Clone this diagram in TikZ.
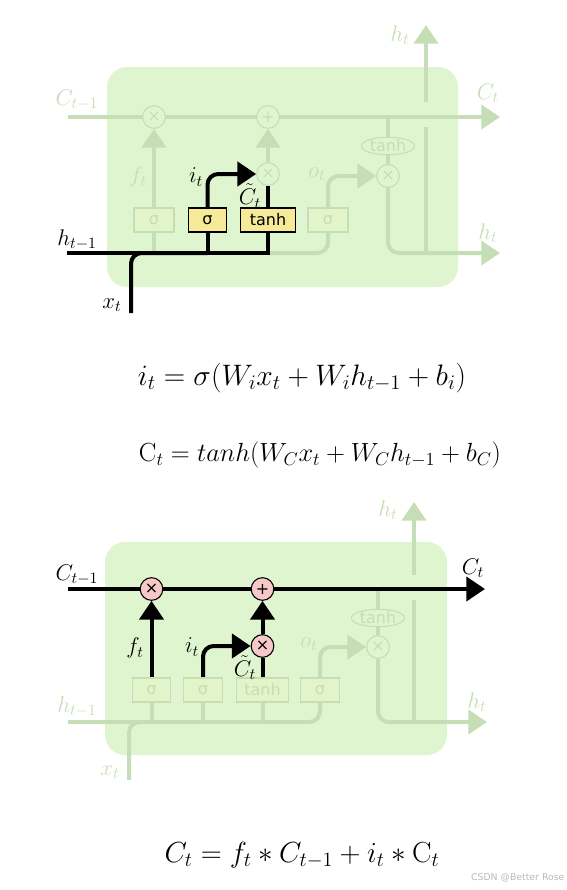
\RequirePackage{fix-cm}
\documentclass[tikz,border=0pt]{standalone}
\usepackage{amsmath}
\usepackage{fontspec}
\usepackage{tikz}
\usetikzlibrary{arrows.meta,backgrounds,shapes,calc,positioning}
\newfontfamily\gatefont{DejaVu Sans}
\definecolor{cellgreen}{RGB}{223,245,208}
\definecolor{fadegreen}{RGB}{198,222,182}
\definecolor{gateyellow}{RGB}{246,233,152}
\definecolor{oppink}{RGB}{246,200,200}
\definecolor{markgray}{RGB}{185,185,185}

\begin{document}
\begin{tikzpicture}[x=0.75pt, y=-0.75pt]
\tikzstyle{cell}=[fill=cellgreen, rounded corners=15pt]
\tikzstyle{flow}=[line width=3pt, draw=black]
\tikzstyle{fade}=[line width=3pt, draw=fadegreen]
\tikzstyle{head}=[-{Triangle[length=14pt, width=18pt]}]
\tikzstyle{gate}=[rectangle, draw, line width=0.8pt, minimum height=18pt, inner sep=0pt, font=\gatefont\fontsize{12}{12}\selectfont]
\tikzstyle{live}=[gate, fill=gateyellow]
\tikzstyle{dead}=[gate, draw=fadegreen, fill=gateyellow!12!cellgreen, text=fadegreen]
\tikzstyle{op}=[circle, draw, line width=0.8pt, minimum size=17pt, inner sep=0pt, font=\gatefont\fontsize{12}{12}\selectfont]
\tikzstyle{opon}=[op, fill=oppink]
\tikzstyle{opoff}=[op, draw=fadegreen, fill=cellgreen, text=fadegreen]
\tikzstyle{lbl}=[font=\fontsize{17}{19}\selectfont, inner sep=0pt]
\tikzstyle{lbloff}=[lbl, text=fadegreen]
\tikzstyle{eqn}=[font=\fontsize{22.2}{25}\selectfont]
\tikzstyle{wmark}=[font=\gatefont\fontsize{7}{8}\selectfont, text=markgray, inner sep=1pt]

\useasboundingbox (0,0) rectangle (567,890);

%% input gate, top cell
  \coordinate (aCin)  at (68,117);
  \coordinate (aCout) at (500,117);
  \coordinate (aCtap) at (388,117);
  \coordinate (aHin)  at (67,253);
  \coordinate (aHout) at (500,253);
  \coordinate (aXin)  at (131,313);
  \coordinate (aJf)   at (154,253);
  \coordinate (aJi)   at (207.5,253);
  \coordinate (aJg)   at (268,253);
  \coordinate (aTap)  at (426,253);
  \coordinate (aTapC) at (426,127);
  \coordinate (aUp)   at (426,102);
  \coordinate (aHtop) at (426,25);

  \node[opoff] (aforget) at (154,117) {×};
  \node[opoff] (aadd)    at (268,117) {+};
  \node[opoff] (amul)    at (268,174) {×};
  \node[opoff] (amulo)   at (388,176) {×};
  \node[ellipse, draw=fadegreen, line width=0.8pt, minimum width=40pt, minimum height=13pt, inner sep=0pt,
        text=fadegreen, font=\gatefont\fontsize{12}{12}\selectfont] (atanh) at (388,146) {tanh};

  \node[dead, minimum width=30pt] (af) at (154,220)   {σ};
  \node[live, minimum width=29pt] (ai) at (207.5,220) {σ};
  \node[live, minimum width=41pt] (ag) at (268,220)   {tanh};
  \node[dead, minimum width=30pt] (ao) at (328,220)   {σ};

  \node[lbloff] (aCinl)  at (77,100)  {$C_{t-1}$};
  \node[lbloff] (aCoutl) at (488,93)  {$C_t$};
  \node[lbloff] (afl)    at (138,177) {$f_t$};
  \node[lbl]    (ail)    at (196,177) {$i_t$};
  \node[lbl]    (agl)    at (250,196) {$\tilde{C}_t$};
  \node[lbloff] (aol)    at (317,174) {$o_t$};
  \node[lbloff] (ahtopl) at (400,35)  {$h_t$};
  \node[lbloff] (ahoutl) at (488,233) {$h_t$};
  \node[lbl]    (ahinl)  at (77,240)  {$h_{t-1}$};
  \node[lbl]    (axl)    at (112,305) {$x_t$};

  \begin{pgfonlayer}{background}
    \fill[cell] (107,67) rectangle (458,287);
    \draw[fade, head] (aCin) -- (aCout);
    \draw[fade, head] (af) -- (aforget);
    \draw[fade] (aJf) -- (af);
    \draw[fade, head] (amul) -- (aadd);
    \draw[fade, rounded corners=8pt] (aJg) -| (ao);
    \draw[fade, head, rounded corners=8pt] (ao) |- (amulo);
    \draw[fade] (aCtap) -- (atanh);
    \draw[fade] (atanh) -- (amulo);
    \draw[fade, head, rounded corners=8pt] (amulo) |- (aHout);
    \draw[fade] (aTap) -- (aTapC);
    \draw[fade, head] (aUp) -- (aHtop);
    \draw[flow] (aHin) -| (ag);
    \draw[flow, rounded corners=8pt] (aXin) |- (aJi);
    \draw[flow] (aJi) -- (ai);
    \draw[flow] (ag) -- (amul);
    \draw[flow, head, rounded corners=8pt] (ai) |- (amul);
  \end{pgfonlayer}

%% equations
  \node[eqn] (eqi) at (302,378) {$i_t = \sigma(W_i x_t + W_i h_{t-1} + b_i)$};
  \node[eqn, font=\fontsize{19.7}{23}\selectfont] (eqc) at (320,455) {$\mathrm{C}_t = tanh(W_C x_t + W_C h_{t-1} + b_C)$};

%% cell state update, bottom cell
  \coordinate (bCin)  at (68,589);
  \coordinate (bCout) at (485,589);
  \coordinate (bCtap) at (378,589);
  \coordinate (bHin)  at (68,722);
  \coordinate (bHout) at (487,722);
  \coordinate (bXin)  at (129,780);
  \coordinate (bJf)   at (151.5,722);
  \coordinate (bJi)   at (203,722);
  \coordinate (bJg)   at (262.5,722);
  \coordinate (bTap)  at (414,722);
  \coordinate (bTapC) at (414,600);
  \coordinate (bUp)   at (414,575);
  \coordinate (bHtop) at (414,502);

  \node[opon]  (bforget) at (151.5,589) {×};
  \node[opon]  (badd)    at (262.5,589) {+};
  \node[opon]  (bmul)    at (262.5,646) {×};
  \node[opoff] (bmulo)   at (378,647) {×};
  \node[ellipse, draw=fadegreen, line width=0.8pt, minimum width=40pt, minimum height=13pt, inner sep=0pt,
        text=fadegreen, font=\gatefont\fontsize{12}{12}\selectfont] (btanh) at (378,618) {tanh};

  \node[dead, minimum width=29pt] (bf) at (151.5,690) {σ};
  \node[dead, minimum width=29pt] (bi) at (203,690)   {σ};
  \node[dead, minimum width=39pt] (bg) at (262.5,690) {tanh};
  \node[dead, minimum width=29pt] (bo) at (320,690)   {σ};

  \node[lbl]    (bCinl)  at (77,575)  {$C_{t-1}$};
  \node[lbl]    (bCoutl) at (473,568) {$C_t$};
  \node[lbl]    (bfl)    at (135,648) {$f_t$};
  \node[lbl]    (bil)    at (192,647) {$i_t$};
  \node[lbl]    (bgl)    at (245,667.5) {$\tilde{C}_t$};
  \node[lbloff] (bol)    at (309,644) {$o_t$};
  \node[lbloff] (bhtopl) at (388,510) {$h_t$};
  \node[lbloff] (bhoutl) at (477,702) {$h_t$};
  \node[lbloff] (bhinl)  at (77,707)  {$h_{t-1}$};
  \node[lbloff] (bxl)    at (110,772) {$x_t$};

  \begin{pgfonlayer}{background}
    \fill[cell] (105,542) rectangle (447,755);
    \draw[fade] (bHin) -- (bJg);
    \draw[fade, rounded corners=8pt] (bJg) -| (bo);
    \draw[fade, rounded corners=8pt] (bXin) |- (bJi);
    \draw[fade] (bJf) -- (bf);
    \draw[fade] (bJi) -- (bi);
    \draw[fade] (bJg) -- (bg);
    \draw[fade, head, rounded corners=8pt] (bo) |- (bmulo);
    \draw[fade] (bCtap) -- (btanh);
    \draw[fade] (btanh) -- (bmulo);
    \draw[fade, head, rounded corners=8pt] (bmulo) |- (bHout);
    \draw[fade] (bTap) -- (bTapC);
    \draw[fade, head] (bUp) -- (bHtop);
    \draw[flow, head] (bCin) -- (bCout);
    \draw[flow, head] (bf) -- (bforget);
    \draw[flow] (bg) -- (bmul);
    \draw[flow, head] (bmul) -- (badd);
    \draw[flow, head, rounded corners=8pt] (bi) |- (bmul);
  \end{pgfonlayer}

%% equation
  \node[eqn, font=\fontsize{21.8}{24}\selectfont] (eqs) at (302,855) {$C_t = f_t * C_{t-1} + i_t * \mathrm{C}_t$};
  \node[wmark, anchor=east] (credit) at (566,878) {CSDN @Better Rose};
\end{tikzpicture}
\end{document}
